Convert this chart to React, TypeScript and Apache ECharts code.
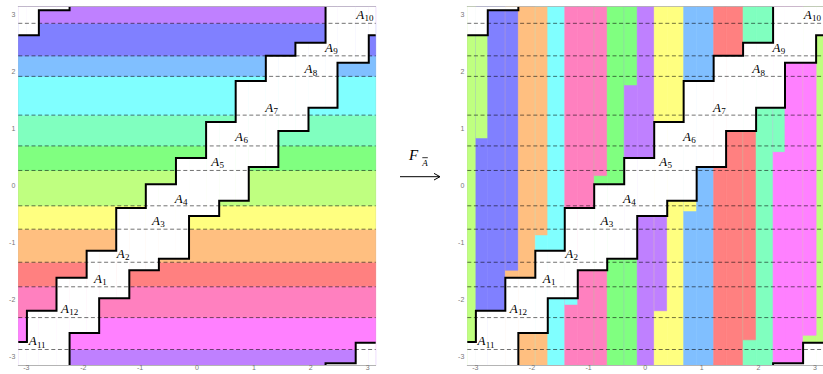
import { useEffect, useRef } from 'react';
import * as echarts from 'echarts';

const PI = Math.PI;

// Partition of the circle into A1..A12: lower edge of each band (A10 wraps through ±π)
const BAND_LOW = [-1.77, -1.34, -0.76, -0.35, 0.27, 0.7, 1.24, 1.92, 2.28, 2.85, -2.87, -2.31];
const BAND_COLORS = [
  '#ff8080', '#ffbf80', '#ffff80', '#bfff80', '#80ff80', '#80ffbf',
  '#80ffff', '#80bfff', '#8080ff', '#bf80ff', '#ff80ff', '#ff80bf',
];

// Upper staircase: x of each jump and the level on each of the 13 pieces
const UPPER_X = [-2.99, -2.47, -1.94, -1.42, -0.9, -0.37, 0.16, 0.68, 1.21, 1.73, 2.26, 2.79];
const UPPER_Y = [-2.74, -2.19, -1.61, -1.14, -0.39, 0.03, 0.49, 1.12, 1.84, 2.28, 2.51, -3.11, -2.75];
// Lower staircase
const LOWER_X = [-2.78, -2.24, -1.72, -1.19, -0.67, -0.14, 0.39, 0.91, 1.43, 1.96, 2.47, 3.02];
const LOWER_Y = [2.64, 3.08, -2.58, -1.97, -1.48, -1.28, -0.53, -0.26, 0.33, 0.96, 1.37, 2.16, 2.64];

// Image under F: vertical strips left to right (band index) and, in each notch,
// the height where the left strip's colour starts (it runs upward to the lower staircase)
const IMAGE_ORDER = [3, 8, 1, 6, 11, 4, 9, 2, 7, 0, 5, 10];
const IMAGE_SPLIT = [0.84, -1.48, -0.86, -2.08, 0.18, 1.77, -2.19, -0.44, 0.33, -2.7, 0.6, -2.62];

// Label anchors for A1..A12
const LABEL_X = [-1.74, -1.34, -0.72, -0.32, 0.32, 0.74, 1.27, 1.96, 2.32, 2.87, -2.89, -2.32];
const LABEL_Y = [-1.63, -1.18, -0.6, -0.22, 0.42, 0.86, 1.38, 2.05, 2.42, 3.0, -2.72, -2.15];

const MAJOR_TICKS = [-3, -2, -1, 0, 1, 2, 3];
const MINOR_TICKS: number[] = [];
for (let k = -15; k <= 15; k++) {
  if (k % 5 !== 0) MINOR_TICKS.push(Math.round(k * 20) / 100);
}

const FRAME = '#b4b4b4';
const SERIF = '"Liberation Serif", "DejaVu Serif", serif';

function levelAt(xs: number[], ys: number[], x: number) {
  let i = 0;
  while (i < xs.length && xs[i] < x) i++;
  return ys[i];
}

// Staircase as polylines on the torus: a downward jump means the step wraps through ±π
function stairPaths(xs: number[], ys: number[]) {
  const paths: number[][][] = [];
  let cur: number[][] = [[-PI, ys[0]]];
  for (let k = 0; k < xs.length; k++) {
    cur.push([xs[k], ys[k]]);
    if (ys[k + 1] >= ys[k]) {
      cur.push([xs[k], ys[k + 1]]);
    } else {
      cur.push([xs[k], PI]);
      paths.push(cur);
      cur = [[xs[k], -PI], [xs[k], ys[k + 1]]];
    }
  }
  cur.push([PI, ys[ys.length - 1]]);
  paths.push(cur);
  return paths;
}

function makeRenderItem(image: boolean) {
  return (_params: any, api: any) => {
    const c = (x: number, y: number) => api.coord([x, y]);
    const children: any[] = [];
    const rect = (x0: number, x1: number, y0: number, y1: number, fill: string) => {
      if (y1 - y0 < 1e-6 || x1 - x0 < 1e-6) return;
      const a = c(x0, y1);
      const b = c(x1, y0);
      children.push({
        type: 'rect',
        shape: { x: a[0], y: a[1], width: b[0] - a[0], height: b[1] - a[1] },
        style: { fill, stroke: fill, lineWidth: 0.6 },
      });
    };
    // cyclic interval [lo, hi] going upward through ±π if needed
    const cyclicRect = (x0: number, x1: number, lo: number, hi: number, fill: string) => {
      if (lo <= hi) rect(x0, x1, lo, hi, fill);
      else {
        rect(x0, x1, lo, PI, fill);
        rect(x0, x1, -PI, hi, fill);
      }
    };

    if (!image) {
      // horizontal bands A1..A12
      for (let i = 0; i < 12; i++) {
        cyclicRect(-PI, PI, BAND_LOW[i], BAND_LOW[(i + 1) % 12], BAND_COLORS[i]);
      }
    } else {
      // vertical strips with notched boundaries
      for (let j = 0; j < 12; j++) {
        const col = BAND_COLORS[IMAGE_ORDER[j]];
        const right = BAND_COLORS[IMAGE_ORDER[(j + 1) % 12]];
        const start = j === 0 ? -PI : LOWER_X[j - 1];
        rect(start, UPPER_X[j], -PI, PI, col);
        if (j === 0) rect(LOWER_X[11], PI, -PI, PI, col);
        // notch between strip j and strip j+1
        rect(UPPER_X[j], LOWER_X[j], -PI, PI, right);
        if (Math.abs(IMAGE_SPLIT[j] - LOWER_Y[j]) > 1e-6) {
          cyclicRect(UPPER_X[j], LOWER_X[j], IMAGE_SPLIT[j], LOWER_Y[j], col);
        }
      }
    }

    // blank strip between the two staircases
    const cuts = [-PI, ...UPPER_X, ...LOWER_X, PI].sort((a, b) => a - b);
    for (let k = 0; k < cuts.length - 1; k++) {
      const a = cuts[k];
      const b = cuts[k + 1];
      if (b - a < 1e-6) continue;
      const m = (a + b) / 2;
      cyclicRect(a, b, levelAt(LOWER_X, LOWER_Y, m), levelAt(UPPER_X, UPPER_Y, m), '#ffffff');
    }

    // dashed band boundaries
    for (const y of BAND_LOW) {
      const a = c(-PI, y);
      const b = c(PI, y);
      children.push({
        type: 'line',
        shape: { x1: a[0], y1: a[1], x2: b[0], y2: b[1] },
        style: { stroke: 'rgba(0,0,0,0.62)', lineWidth: 0.9, lineDash: [4, 2.6] },
      });
    }

    // staircases
    for (const [xs, ys] of [[UPPER_X, UPPER_Y], [LOWER_X, LOWER_Y]] as number[][][]) {
      for (const path of stairPaths(xs, ys)) {
        children.push({
          type: 'polyline',
          shape: { points: path.map(([x, y]) => c(x, y)) },
          style: { stroke: '#000', lineWidth: 2, fill: 'none', lineJoin: 'miter' },
        });
      }
    }

    // labels A_n
    for (let i = 0; i < 12; i++) {
      const p = c(LABEL_X[i], LABEL_Y[i]);
      children.push({
        type: 'text',
        x: p[0],
        y: p[1],
        style: {
          text: 'A', fontSize: 13, fontStyle: 'italic', fontFamily: SERIF,
          fill: '#000', align: 'center', verticalAlign: 'middle',
        },
      });
      children.push({
        type: 'text',
        x: p[0] + 4.3,
        y: p[1] + 3.6,
        style: {
          text: String(i + 1), fontSize: 9, fontFamily: SERIF,
          fill: '#000', align: 'left', verticalAlign: 'middle',
        },
      });
    }
    return { type: 'group', children };
  };
}

const GRIDS = [
  { left: 18.3, top: 6.7, width: 357.4, height: 358.3 },
  { left: 467.3, top: 6.7, width: 357.4, height: 358.3 },
];

const TICK_FONT = '"Liberation Sans", sans-serif';

function xAxes(g: number) {
  const base = { type: 'value', gridIndex: g, min: -PI, max: PI, splitLine: { show: false } };
  const tick = (values: number[], len: number) => ({
    show: true, inside: true, length: len, customValues: values,
    lineStyle: { color: FRAME, width: 0.8 },
  });
  return [
    {
      ...base, position: 'bottom',
      axisLine: { show: true, onZero: false, lineStyle: { color: FRAME, width: 1 } },
      axisTick: tick(MAJOR_TICKS, 4),
      axisLabel: { show: true, customValues: MAJOR_TICKS, fontSize: 7, color: '#777', margin: -1, fontFamily: TICK_FONT },
    },
    { ...base, position: 'bottom', axisLine: { show: false, onZero: false }, axisTick: tick(MINOR_TICKS, 2), axisLabel: { show: false } },
    {
      ...base, position: 'top',
      axisLine: { show: true, onZero: false, lineStyle: { color: FRAME, width: 1 } },
      axisTick: tick(MAJOR_TICKS, 4), axisLabel: { show: false },
    },
    { ...base, position: 'top', axisLine: { show: false, onZero: false }, axisTick: tick(MINOR_TICKS, 2), axisLabel: { show: false } },
  ];
}

function yAxes(g: number) {
  const base = { type: 'value', gridIndex: g, min: -PI, max: PI, splitLine: { show: false } };
  const tick = (values: number[], len: number) => ({
    show: true, inside: true, length: len, customValues: values,
    lineStyle: { color: FRAME, width: 0.8 },
  });
  return [
    {
      ...base, position: 'left',
      axisLine: { show: true, onZero: false, lineStyle: { color: FRAME, width: 1 } },
      axisTick: tick(MAJOR_TICKS, 4),
      axisLabel: { show: true, customValues: MAJOR_TICKS, fontSize: 7, color: '#777', margin: 3, fontFamily: TICK_FONT },
    },
    { ...base, position: 'left', axisLine: { show: false, onZero: false }, axisTick: tick(MINOR_TICKS, 2), axisLabel: { show: false } },
    {
      ...base, position: 'right',
      axisLine: { show: true, onZero: false, lineStyle: { color: FRAME, width: 1 } },
      axisTick: tick(MAJOR_TICKS, 4), axisLabel: { show: false },
    },
    { ...base, position: 'right', axisLine: { show: false, onZero: false }, axisTick: tick(MINOR_TICKS, 2), axisLabel: { show: false } },
  ];
}

export default function App() {
  const ref = useRef<HTMLDivElement>(null);
  useEffect(() => {
    if (!ref.current) return;
    const chart = echarts.init(ref.current, undefined, { renderer: 'svg' });
    chart.setOption({
      animation: false,
      backgroundColor: '#ffffff',
      grid: GRIDS,
      xAxis: [...xAxes(0), ...xAxes(1)],
      yAxis: [...yAxes(0), ...yAxes(1)],
      series: [0, 1].map((g) => ({
        type: 'custom',
        xAxisIndex: g * 4,
        yAxisIndex: g * 4,
        clip: true,
        silent: true,
        data: [[0, 0]],
        renderItem: makeRenderItem(g === 1),
      })),
      graphic: [
        {
          type: 'text', x: 413.5, y: 155,
          style: { text: 'F', fontSize: 15, fontStyle: 'italic', fontFamily: SERIF, fill: '#000', align: 'center', verticalAlign: 'middle' },
        },
        {
          type: 'text', x: 425, y: 163,
          style: { text: 'A', fontSize: 9, fontStyle: 'italic', fontFamily: SERIF, fill: '#000', align: 'center', verticalAlign: 'middle' },
        },
        { type: 'line', shape: { x1: 422.3, y1: 157.7, x2: 427.8, y2: 157.7 }, style: { stroke: '#000', lineWidth: 0.8 } },
        { type: 'line', shape: { x1: 400, y1: 176.7, x2: 439.5, y2: 176.7 }, style: { stroke: '#000', lineWidth: 1 } },
        {
          type: 'polyline',
          shape: { points: [[434, 173.4], [440, 176.7], [434, 180]] },
          style: { stroke: '#000', lineWidth: 1, fill: 'none' },
        },
      ],
    });
    return () => chart.dispose();
  }, []);
  return (
    <div
      ref={ref}
      style={{ position: 'fixed', left: 0, top: 0, width: 823, height: 374, background: '#fff' }}
    />
  );
}
